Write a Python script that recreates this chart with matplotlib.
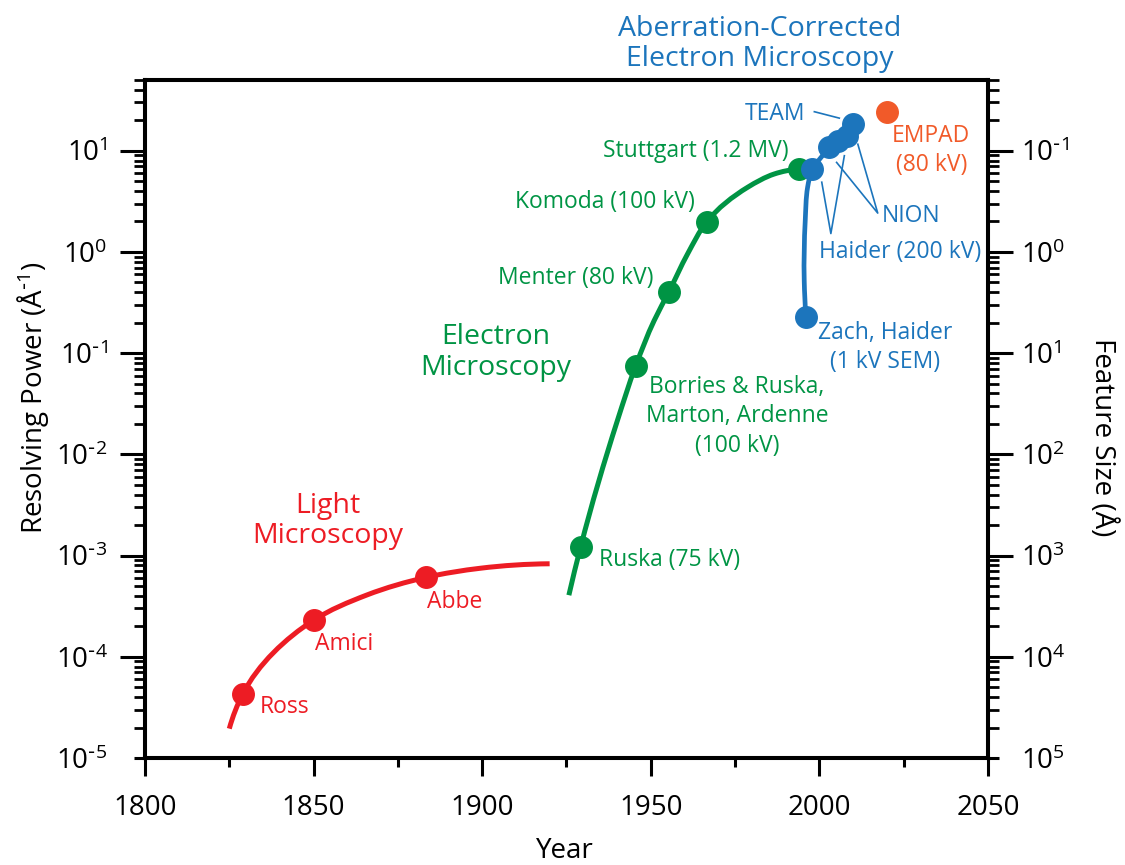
import numpy as np
import matplotlib
matplotlib.use('Agg')
import matplotlib.pyplot as plt
from matplotlib.path import Path
from matplotlib.patches import PathPatch
from matplotlib.ticker import MultipleLocator, FuncFormatter, LogLocator

plt.rcParams['font.family'] = ['Open Sans', 'DejaVu Sans']
plt.rcParams['mathtext.default'] = 'regular'

RED = '#ED1C24'
GREEN = '#009444'
BLUE = '#1C75BC'
ORANGE = '#F15A29'

# %% data (year, resolving power in 1/A)
light_names = ['Ross', 'Amici', 'Abbe']
light_years = [1829, 1850, 1883.4]
light_res = [4.3e-5, 2.3e-4, 6.1e-4]
light_curve_years = [1825.0, 1829.0, 1850.0, 1865.8, 1883.4, 1899.5, 1920.0]
light_curve_res = [1.95e-5, 4.3e-5, 2.3e-4, 4.08e-4, 6.1e-4, 7.5e-4, 8.3e-4]

em_names = ['Ruska (75 kV)', 'Borries & Ruska,\nMarton, Ardenne\n(100 kV)', 'Menter (80 kV)',
            'Komoda (100 kV)', 'Stuttgart (1.2 MV)']
em_years = [1929.2, 1945.5, 1955.4, 1966.6, 1994.0]
em_res = [1.22e-3, 0.0745, 0.406, 1.99, 6.6]
em_curve_years = [1925.7, 1929.2, 1940.1, 1945.5, 1951.0, 1955.4, 1960.9, 1966.6,
                  1978.7, 1986.6, 1994.0]
em_curve_res = [4.06e-4, 1.22e-3, 0.0216, 0.0745, 0.21, 0.406, 0.955, 1.99,
                4.35, 5.89, 6.6]

ac_years = [1996.0, 1997.7, 2002.9, 2005.4, 2008.3, 2009.9]
ac_res = [0.23, 6.6, 10.8, 12.5, 14.1, 18.5]
ac_curve_years = [1996.0, 1995.5, 1995.8, 1996.5, 1997.7]
ac_curve_res = [0.23, 0.52, 2.04, 4.35, 6.6]

empad_year = 2020.0
empad_res = 24.3

# leader lines
haider_lx = [2000.7, 2003.4, 2007.4]
haider_ly = [4.89, 1.52, 8.93]
nion_lx = [2005.1, 2017.3, 2011.4]
nion_ly = [7.67, 2.42, 11.6]
team_lx = [1998.5, 2005.9]
team_ly = [24.3, 21.0]


def smooth_line(ax, xs, ys, **kw):
    # chordal hermite spline through the traced points, built on screen, drawn in data coords
    P = ax.transData.transform(np.column_stack([xs, ys]))
    seg = np.diff(P, axis=0)
    L = np.hypot(seg[:, 0], seg[:, 1])
    U = seg / L[:, None]
    n = len(P)
    T = np.zeros_like(P)
    for i in range(1, n - 1):
        T[i] = (U[i - 1] * L[i] + U[i] * L[i - 1]) / (L[i - 1] + L[i])
    T[0] = 2 * U[0] - T[1]
    T[-1] = 2 * U[-1] - T[-2]
    verts = [P[0]]
    for i in range(n - 1):
        verts += [P[i] + T[i] * L[i] / 3, P[i + 1] - T[i + 1] * L[i] / 3, P[i + 1]]
    verts = ax.transData.inverted().transform(np.array(verts))
    codes = [Path.MOVETO] + [Path.CURVE4] * (len(verts) - 1)
    ax.add_patch(PathPatch(Path(verts, codes), fill=False, capstyle='butt', **kw))


def pow_label(e):
    if e < 0:
        return r'$\mathregular{10^{\text{-}%d}}$' % -e
    return r'$\mathregular{10^{%d}}$' % e


# %% figure
fig = plt.figure(figsize=(11.25, 8.65), dpi=100)
ax = fig.add_axes([0.12889, 0.1237, 0.74933, 0.78382])
ax.set_yscale('log')
ax.set_xlim(1800, 2050)
ax.set_ylim(1e-5, 50)

smooth_line(ax, light_curve_years, light_curve_res, edgecolor=RED, lw=3.6, zorder=2)
smooth_line(ax, em_curve_years, em_curve_res, edgecolor=GREEN, lw=3.6, zorder=2)
ax.plot(light_years, light_res, 'o', color=RED, ms=15.5, zorder=3)
ax.plot(em_years, em_res, 'o', color=GREEN, ms=15.5, zorder=3)

smooth_line(ax, ac_curve_years, ac_curve_res, edgecolor=BLUE, lw=3.4, zorder=4)
ax.plot(ac_years[1:], ac_res[1:], '-', color=BLUE, lw=3.4, zorder=4)
ax.plot(ac_years, ac_res, 'o', color=BLUE, ms=15.5, zorder=5)
ax.plot([empad_year], [empad_res], 'o', color=ORANGE, ms=15.5, zorder=5)

for lx, ly in [(haider_lx, haider_ly), (nion_lx, nion_ly), (team_lx, team_ly)]:
    ax.plot(lx, ly, color=BLUE, lw=1.2, zorder=4)

# %% labels
fs = 16.5
ax.text(1834.1, 3.18e-5, 'Ross', color=RED, fontsize=fs, ha='left', va='center')
ax.text(1850.4, 1.33e-4, 'Amici', color=RED, fontsize=fs, ha='left', va='center')
ax.text(1883.6, 3.46e-4, 'Abbe', color=RED, fontsize=fs, ha='left', va='center')
ax.text(1854.3, 2.18e-3, 'Light\nMicroscopy', color=RED, fontsize=20.5, ha='center',
        va='center', linespacing=1.1)

ax.text(1934.7, 9.0e-4, em_names[0], color=GREEN, fontsize=fs, ha='left', va='center')
ax.text(1975.6, 0.0237, em_names[1], color=GREEN, fontsize=fs, ha='center', va='center',
        linespacing=1.3)
ax.text(1950.7, 0.558, em_names[2], color=GREEN, fontsize=fs, ha='right', va='center')
ax.text(1963.2, 3.14, em_names[3], color=GREEN, fontsize=fs, ha='right', va='center')
ax.text(1991.0, 10.0, em_names[4], color=GREEN, fontsize=fs, ha='right', va='center')
ax.text(1904.1, 0.1016, 'Electron\nMicroscopy', color=GREEN, fontsize=20.5, ha='center',
        va='center', linespacing=1.1)

ax.text(1995.8, 23.2, 'TEAM', color=BLUE, fontsize=fs, ha='right', va='center')
ax.text(2018.6, 2.24, 'NION', color=BLUE, fontsize=fs, ha='left', va='center')
ax.text(1999.9, 1.01, 'Haider (200 kV)', color=BLUE, fontsize=fs, ha='left', va='center')
ax.text(2019.5, 0.1138, 'Zach, Haider\n(1 kV SEM)', color=BLUE, fontsize=fs, ha='center',
        va='center', linespacing=1.3)
ax.text(2033.2, 10.0, 'EMPAD\n(80 kV)', color=ORANGE, fontsize=fs, ha='center',
        va='center', linespacing=1.3)
ax.text(1982.4, 113.7, 'Aberration-Corrected\nElectron Microscopy', color=BLUE,
        fontsize=20.5, ha='center', va='center', linespacing=1.1)

# %% axes styling
major_y = [1e-5, 1e-4, 1e-3, 1e-2, 1e-1, 1e0, 1e1]

for s in ax.spines.values():
    s.set_linewidth(2.9)
ax.xaxis.set_major_locator(MultipleLocator(50))
ax.xaxis.set_minor_locator(MultipleLocator(25))
ax.tick_params(axis='x', which='major', length=13, width=2.2, pad=13, labelsize=20)
ax.tick_params(axis='x', which='minor', length=6.5, width=2.2)
ax.set_yticks(major_y)
ax.yaxis.set_minor_locator(LogLocator(base=10, subs=np.arange(2, 10), numticks=20))
ax.tick_params(axis='y', which='major', length=18, width=2.2, pad=9, labelsize=20)
ax.tick_params(axis='y', which='minor', length=8, width=2)
ax.yaxis.set_major_formatter(FuncFormatter(lambda v, p: pow_label(round(np.log10(v)))))
ax.set_ylim(1e-5, 50)

ax2 = ax.twinx()
ax2.set_yscale('log')
ax2.set_ylim(1e-5, 50)
for s in ax2.spines.values():
    s.set_linewidth(2.9)
ax2.set_yticks(major_y)
ax2.yaxis.set_minor_locator(LogLocator(base=10, subs=np.arange(2, 10), numticks=20))
ax2.tick_params(axis='y', which='major', length=18, width=2.2, pad=6, labelsize=20)
ax2.tick_params(axis='y', which='minor', length=8, width=2)
ax2.yaxis.set_major_formatter(FuncFormatter(lambda v, p: pow_label(-round(np.log10(v)))))
ax2.set_ylim(1e-5, 50)

# the bottom decade tick is drawn short in the original
ax.yaxis.get_major_ticks()[0].tick1line.set_markersize(8)
ax2.yaxis.get_major_ticks()[0].tick2line.set_markersize(8)

ax.set_xlabel('Year', fontsize=20, va='baseline')
ax.xaxis.set_label_coords(0.498, -0.1475)
ax.set_ylabel(r'Resolving Power (Å$^{\text{-}1}$)', fontsize=20, va='center')
ax.yaxis.set_label_coords(-0.133, 0.532)
ax2.set_ylabel('Feature Size (Å)', fontsize=20, rotation=270, va='center')
ax2.yaxis.set_label_coords(1.136, 0.473)

fig.savefig('out.png', dpi=100)
